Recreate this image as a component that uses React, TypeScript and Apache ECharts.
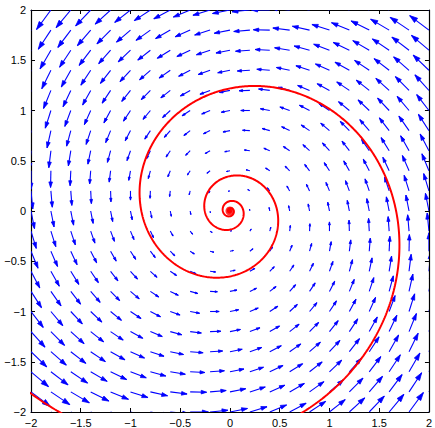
import React, { useEffect, useRef } from "react";
import * as echarts from "echarts";

// Axis ticks (both axes)
const axisTicks = [-2, -1.5, -1, -0.5, 0, 0.5, 1, 1.5, 2];
// Quiver grid points (tails), both directions
const gridCoords = [
  -2, -1.8, -1.6, -1.4, -1.2, -1, -0.8, -0.6, -0.4, -0.2, 0,
  0.2, 0.4, 0.6, 0.8, 1, 1.2, 1.4, 1.6, 1.8, 2,
];
// Linear system d[x,y]/dt = A [x,y], read from arrow directions / spiral growth
const systemMatrix = [
  [-0.2, -1],
  [1, -0.2],
];
// Quiver auto-scale factor (arrow length per unit of speed)
const quiverScale = 0.088;
// Trajectory: radius where it crosses the positive x axis, angular range drawn
const trajectoryRadiusAtXAxis = 1.67;
const trajectoryAngleRange = [-2.7, 40];
const equilibrium = [[0, 0]];

const fmt = (v: number) => String(v).replace("-", "\u2212");

export default function App() {
  const ref = useRef<HTMLDivElement>(null);
  useEffect(() => {
    if (!ref.current) return;
    const chart = echarts.init(ref.current, undefined, { renderer: "svg" });

    const [[a00, a01], [a10, a11]] = systemMatrix;
    const arrows: number[][] = [];
    for (const x of gridCoords) {
      for (const y of gridCoords) {
        const u = a00 * x + a01 * y;
        const v = a10 * x + a11 * y;
        arrows.push([x, y, u * quiverScale, v * quiverScale]);
      }
    }

    const decay = -a00;
    const traj: number[][] = [];
    for (let t = trajectoryAngleRange[0]; t <= trajectoryAngleRange[1]; t += 0.01) {
      const r = trajectoryRadiusAtXAxis * Math.exp(-decay * t);
      traj.push([r * Math.cos(t), r * Math.sin(t)]);
    }

    const alpha = 0.33;
    const beta = 0.33;

    const labelStyle = {
      fontFamily: "Liberation Sans, Arial, sans-serif",
      fontSize: 11,
      color: "#000",
    };
    const axisCommon = {
      type: "value" as const,
      min: -2,
      max: 2,
      interval: 0.5,
      axisLine: { show: true, onZero: false, lineStyle: { color: "#000", width: 1.2 } },
      axisTick: { show: true, inside: true, length: 4, lineStyle: { color: "#000" } },
      splitLine: { show: false },
    };

    chart.setOption({
      animation: false,
      backgroundColor: "#fff",
      grid: { left: 31, right: 4, top: 10, bottom: 16, containLabel: false },
      xAxis: [
        {
          ...axisCommon,
          position: "bottom",
          axisLabel: { ...labelStyle, margin: 5, formatter: fmt },
        },
        {
          ...axisCommon,
          position: "top",
          axisLabel: { show: false },
        },
      ],
      yAxis: [
        {
          ...axisCommon,
          position: "left",
          axisLabel: { ...labelStyle, margin: 5, formatter: fmt },
        },
        {
          ...axisCommon,
          position: "right",
          axisLabel: { show: false },
        },
      ],
      series: [
        {
          type: "custom",
          xAxisIndex: 0,
          yAxisIndex: 0,
          clip: true,
          data: arrows,
          renderItem: (params: any, api: any) => {
            const x = api.value(0);
            const y = api.value(1);
            const u = api.value(2);
            const v = api.value(3);
            if (Math.abs(u) < 1e-9 && Math.abs(v) < 1e-9) return { type: "group", children: [] };
            const p0 = api.coord([x, y]);
            const p1 = api.coord([x + u, y + v]);
            const h1 = api.coord([
              x + u - alpha * (u + beta * v),
              y + v - alpha * (v - beta * u),
            ]);
            const h2 = api.coord([
              x + u - alpha * (u - beta * v),
              y + v - alpha * (v + beta * u),
            ]);
            return {
              type: "group",
              children: [
                {
                  type: "line",
                  shape: { x1: p0[0], y1: p0[1], x2: p1[0], y2: p1[1] },
                  style: { stroke: "#0000ff", lineWidth: 1.1 },
                },
                {
                  type: "polygon",
                  shape: { points: [h1, p1, h2] },
                  style: { stroke: "#0000ff", lineWidth: 0.8, fill: "#0000ff", lineJoin: "miter" },
                },
              ],
            };
          },
          z: 2,
        },
        {
          type: "line",
          data: traj,
          showSymbol: false,
          clip: true,
          lineStyle: { color: "#ff0000", width: 2 },
          z: 3,
        },
        {
          type: "scatter",
          data: equilibrium,
          symbol: "circle",
          symbolSize: 9,
          itemStyle: { color: "#ff0000" },
          z: 4,
        },
      ],
    });
    return () => chart.dispose();
  }, []);
  return (
    <div
      ref={ref}
      style={{ position: "fixed", left: 0, top: 0, width: 435, height: 428 }}
    />
  );
}
